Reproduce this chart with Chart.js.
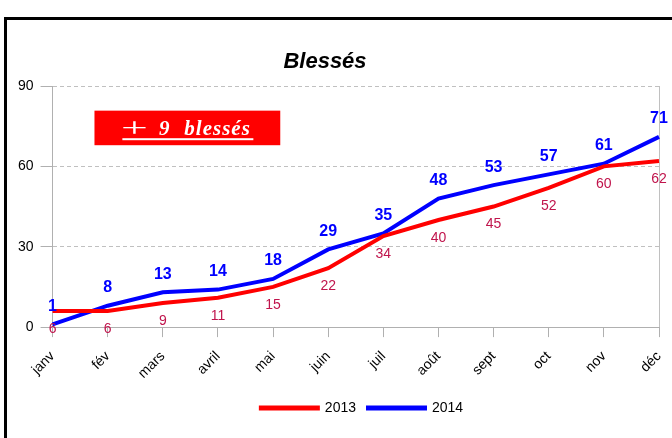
<!DOCTYPE html>
<html>
<head>
<meta charset="utf-8">
<script src="https://cdn.jsdelivr.net/npm/chart.js@4"></script>
<style>
    body { margin: 0; background: #fff; overflow: hidden; }
    #frame { position: absolute; left: 4px; top: 17px; width: 720px; height: 460px; border: 3px solid #000; }
    #wrap { position: absolute; left: 0; top: 0; width: 672px; height: 438px; }
</style>
</head>
<body>
<div id="frame"></div>
<div id="wrap"><canvas id="blessesChart" width="672" height="438"></canvas></div>
<script>
// Months and number of injured per year
const months = ['janv', 'fév', 'mars', 'avril', 'mai', 'juin', 'juil', 'août', 'sept', 'oct', 'nov', 'déc'];
const values2013 = [6, 6, 9, 11, 15, 22, 34, 40, 45, 52, 60, 62];
const values2014 = [1, 8, 13, 14, 18, 29, 35, 48, 53, 57, 61, 71];
const yTicks = [0, 30, 60, 90];
const noteParts = ['+', '9', 'blessés'];

// Draw value labels and the red note box
const labelsPlugin = {
    id: 'valueLabels',
    afterDatasetsDraw(chart) {
        const ctx = chart.ctx;
        ctx.save();
        ctx.textAlign = 'center';
        ctx.textBaseline = 'middle';
        chart.data.datasets.forEach((ds, i) => {
            const meta = chart.getDatasetMeta(i);
            meta.data.forEach((pt, j) => {
                if (i === 1) {
                    ctx.font = 'bold 16px Arial, "Liberation Sans", sans-serif';
                    ctx.fillStyle = '#0000ff';
                    ctx.fillText(ds.data[j], pt.x, pt.y - 18);
                } else {
                    ctx.font = '14px Arial, "Liberation Sans", sans-serif';
                    ctx.fillStyle = '#c0144c';
                    ctx.fillText(ds.data[j], pt.x, pt.y + 18);
                }
            });
        });

        // note box in the top left of the plot
        const x = chart.scales.x, y = chart.scales.y;
        const left = x.getPixelForValue(0.76), right = x.getPixelForValue(4.13);
        const top = y.getPixelForValue(80.8), bottom = y.getPixelForValue(67.9);
        ctx.fillStyle = '#ff0000';
        ctx.fillRect(left, top, right - left, bottom - top);
        const cx = (left + right) / 2, base = bottom - 10;
        ctx.fillStyle = '#fff';
        ctx.textBaseline = 'alphabetic';
        // wide plus sign
        ctx.save();
        ctx.translate(cx - 53, base + 2);
        ctx.scale(1.7, 1);
        ctx.font = '28px "Liberation Serif", "Times New Roman", serif';
        ctx.fillText(noteParts[0], 0, 0);
        ctx.restore();
        ctx.font = 'italic bold 21px "Liberation Serif", "Times New Roman", serif';
        ctx.fillText(noteParts[1], cx - 23, base);
        ctx.textAlign = 'left';
        ctx.letterSpacing = '1px';
        ctx.fillText(noteParts[2], cx - 3, base);
        ctx.fillRect(cx - 65, base + 3, 131, 2);
        ctx.restore();
    }
};

// Nudge the title and legend like in the original picture
const shiftPlugin = {
    id: 'shiftBlocks',
    afterLayout(chart) {
        chart.legend.left += 27;
        chart.legend.right += 27;
        chart.titleBlock.left -= 10;
        chart.titleBlock.right -= 10;
    }
};

const ctx = document.getElementById('blessesChart').getContext('2d');
new Chart(ctx, {
    type: 'line',
    data: {
        labels: months,
        datasets: [
            {
                label: '2013',
                data: values2013,
                borderColor: '#ff0000',
                backgroundColor: '#ff0000',
                borderWidth: 4,
                pointRadius: 0,
                tension: 0
            },
            {
                label: '2014',
                data: values2014,
                borderColor: '#0000ff',
                backgroundColor: '#0000ff',
                borderWidth: 4,
                pointRadius: 0,
                tension: 0
            }
        ]
    },
    options: {
        responsive: false,
        animation: false,
        layout: {
            padding: { left: 11, right: 13, top: 49, bottom: 13 }
        },
        scales: {
            x: {
                offset: false,
                afterFit: axis => { axis.height -= 4; axis.paddingRight = 0; },
                grid: {
                    color: c => c.index === months.length - 1 ? '#c0c0c0' : 'transparent',
                    tickColor: '#b0b0b0',
                    tickLength: 10,
                    drawOnChartArea: true
                },
                border: { display: true, color: '#b0b0b0', width: 1 },
                ticks: {
                    minRotation: 45,
                    maxRotation: 45,
                    color: '#000',
                    padding: 11,
                    font: { family: 'Arial, "Liberation Sans", sans-serif', size: 14 }
                }
            },
            y: {
                min: 0,
                max: 90,
                afterBuildTicks: axis => { axis.ticks = yTicks.map(v => ({ value: v })); },
                grid: {
                    color: '#c0c0c0',
                    tickColor: '#b0b0b0',
                    tickLength: 12
                },
                border: { display: true, color: '#b0b0b0', dash: [4, 3] },
                ticks: {
                    color: '#000',
                    padding: 7,
                    font: { family: 'Arial, "Liberation Sans", sans-serif', size: 14 }
                }
            }
        },
        plugins: {
            title: {
                display: true,
                text: 'Blessés',
                color: '#000',
                font: { family: 'Arial, "Liberation Sans", sans-serif', size: 22, style: 'italic', weight: 'bold' },
                padding: { top: 0, bottom: 10.6 }
            },
            legend: {
                position: 'bottom',
                labels: {
                    boxWidth: 57,
                    boxHeight: 1,
                    color: '#000',
                    padding: 12,
                    font: { family: 'Arial, "Liberation Sans", sans-serif', size: 14 }
                }
            },
            tooltip: { enabled: false }
        }
    },
    plugins: [labelsPlugin, shiftPlugin]
});
</script>
</body>
</html>
